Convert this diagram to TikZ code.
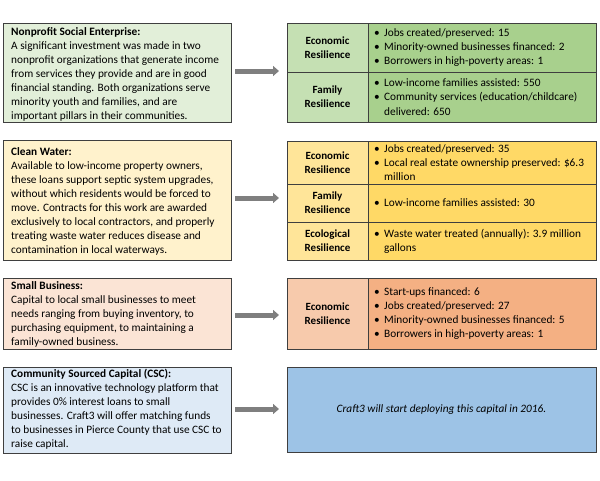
\documentclass[tikz,border=0pt]{standalone}
\usepackage{fontspec}
\setmainfont{Carlito}
\usetikzlibrary{arrows.meta}
\definecolor{bordc}{HTML}{3F3F3F}
\definecolor{arrc}{HTML}{7F7F7F}
\definecolor{gA}{HTML}{E2EFD9}
\definecolor{gB}{HTML}{C5E0B3}
\definecolor{gC}{HTML}{A8D08D}
\definecolor{yA}{HTML}{FFF2CC}
\definecolor{yB}{HTML}{FFE599}
\definecolor{yC}{HTML}{FFD966}
\definecolor{oA}{HTML}{FBE4D5}
\definecolor{oB}{HTML}{F7CAAC}
\definecolor{oC}{HTML}{F4B083}
\definecolor{bA}{HTML}{DEEAF6}
\definecolor{bC}{HTML}{9DC3E6}
\newcommand{\bl}{\makebox[10pt][l]{\textbullet}}
\newcommand{\cn}{\makebox[10pt]{}}
\newcommand{\st}{\rule{0pt}{10pt}}
\begin{document}
\begin{tikzpicture}[x=1pt,y=-1pt,
  box/.style={draw=bordc, line width=0.8pt, anchor=north west, inner sep=0pt, outer sep=0pt},
  body/.style={anchor=north west, align=left, inner sep=0pt, font=\fontsize{11.3}{14}\selectfont},
  lab/.style={box, align=center, font=\fontsize{11}{14}\selectfont\bfseries},
  cont/.style={anchor=west, align=left, inner sep=0pt, font=\fontsize{11.3}{14.2}\selectfont},
  arr/.style={draw=arrc, line width=5pt, -{Triangle[length=6pt,width=10pt]}, shorten <=4pt, shorten >=8pt}
]
\useasboundingbox (0,0) rectangle (600,480);

% ---- Row 1: Nonprofit ----
\node[box, fill=gA, minimum width=228, minimum height=99] (b1) at (3,23) {};
\node[body] (b1t) at (11,25) {\st\textbf{Nonprofit Social Enterprise:}\\
A significant investment was made in two\\
nonprofit organizations that generate income\\
from services they provide and are in good\\
financial standing. Both organizations serve\\
minority youth and families, and are\\
important pillars in their communities.};
\node[lab, fill=gB, minimum width=81, minimum height=49] (t1a) at (287,23) {Economic\\Resilience};
\node[box, fill=gC, minimum width=228, minimum height=49] (t1b) at (368,23) {};
\node[lab, fill=gB, minimum width=81, minimum height=50] (t1c) at (287,72) {Family\\Resilience};
\node[box, fill=gC, minimum width=228, minimum height=50] (t1d) at (368,72) {};
\node[cont] (t1bt) at ([xshift=6]t1b.west) {\bl Jobs created/preserved: 15\\
\bl Minority-owned businesses financed: 2\\
\bl Borrowers in high-poverty areas: 1};
\node[cont] (t1dt) at ([xshift=6]t1d.west) {\bl Low-income families assisted: 550\\
\bl Community services (education/childcare)\\
\cn delivered: 650};
\draw[arr] ([yshift=1.5]b1.east) -- ([yshift=1.5]b1.east -| t1a.west);

% ---- Row 2: Clean Water ----
\node[box, fill=yA, minimum width=228, minimum height=120] (b2) at (3,140) {};
\node[body] (b2t) at (11,145) {\st\textbf{Clean Water:}\\
Available to low-income property owners,\\
these loans support septic system upgrades,\\
without which residents would be forced to\\
move. Contracts for this work are awarded\\
exclusively to local contractors, and properly\\
treating waste water reduces disease and\\
contamination in local waterways.};
\node[lab, fill=yB, minimum width=81, minimum height=43] (t2a) at (287,141) {Economic\\Resilience};
\node[box, fill=yC, minimum width=228, minimum height=43] (t2b) at (368,141) {};
\node[lab, fill=yB, minimum width=81, minimum height=38] (t2c) at (287,184) {Family\\Resilience};
\node[box, fill=yC, minimum width=228, minimum height=38] (t2d) at (368,184) {};
\node[lab, fill=yB, minimum width=81, minimum height=38] (t2e) at (287,222) {Ecological\\Resilience};
\node[box, fill=yC, minimum width=228, minimum height=38] (t2f) at (368,222) {};
\node[cont] (t2bt) at ([xshift=6]t2b.west) {\bl Jobs created/preserved: 35\\
\bl Local real estate ownership preserved: \$6.3\\
\cn million};
\node[cont] (t2dt) at ([xshift=6]t2d.west) {\bl Low-income families assisted: 30};
\node[cont] (t2ft) at ([xshift=6]t2f.west) {\bl Waste water treated (annually): 3.9 million\\
\cn gallons};
\draw[arr] ([yshift=2]b2.east) -- ([yshift=2]b2.east -| t2a.west);

% ---- Row 3: Small Business ----
\node[box, fill=oA, minimum width=228, minimum height=71] (b3) at (3,278) {};
\node[body] (b3t) at (11,279) {\st\textbf{Small Business:}\\
Capital to local small businesses to meet\\
needs ranging from buying inventory, to\\
purchasing equipment, to maintaining a\\
family-owned business.};
\node[lab, fill=oB, minimum width=81, minimum height=71] (t3a) at (287,278) {Economic\\Resilience};
\node[box, fill=oC, minimum width=228, minimum height=71] (t3b) at (368,278) {};
\node[cont] (t3bt) at ([xshift=6]t3b.west) {\bl Start-ups financed: 6\\
\bl Jobs created/preserved: 27\\
\bl Minority-owned businesses financed: 5\\
\bl Borrowers in high-poverty areas: 1};
\draw[arr] ([yshift=-1.5]b3.east) -- ([yshift=-1.5]b3.east -| t3a.west);

% ---- Row 4: CSC ----
\node[box, fill=bA, minimum width=228, minimum height=86] (b4) at (3,367) {};
\node[body] (b4t) at (11,367) {\st\textbf{Community Sourced Capital (CSC):}\\
CSC is an innovative technology platform that\\
provides 0\% interest loans to small\\
businesses. Craft3 will offer matching funds\\
to businesses in Pierce County that use CSC to\\
raise capital.};
\node[box, fill=bC, minimum width=309, minimum height=85, font=\fontsize{11.3}{14}\selectfont\itshape] (t4) at (287,367) {Craft3 will start deploying this capital in 2016.};
\draw[arr] ([yshift=1]b4.east) -- ([yshift=1]b4.east -| t4.west);
\end{tikzpicture}
\end{document}
